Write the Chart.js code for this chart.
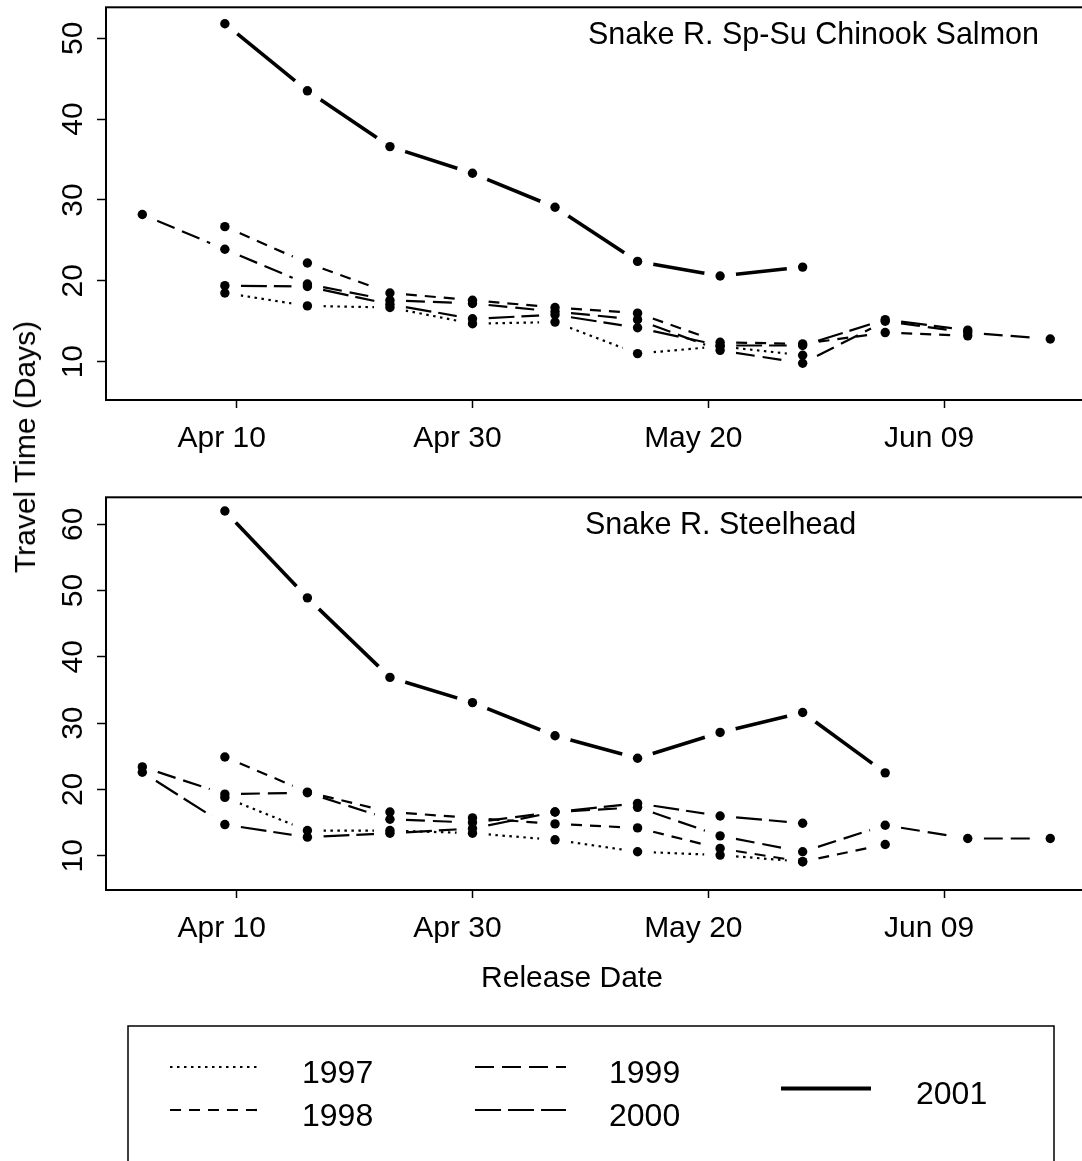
<!DOCTYPE html>
<html>
<head>
<meta charset="utf-8">
<title>Snake River travel time by release date</title>
<script src="https://cdn.jsdelivr.net/npm/chart.js@4/dist/chart.umd.min.js"></script>
<style>
  html, body { margin: 0; padding: 0; background: #fff; }
  body { width: 1082px; height: 1161px; overflow: hidden; position: relative;
         font-family: 'Liberation Sans', Arial, Helvetica, sans-serif; color: #000; }
  .panel { position: absolute; left: 0; }
  #ylab { position: absolute; left: 24.6px; top: 447px; font-size: 30px; line-height: 30px;
          white-space: nowrap; transform: translate(-50%, -50%) rotate(-90deg); }
  #xlab { position: absolute; left: 572px; top: 987px; font-size: 30px; line-height: 30px;
          white-space: nowrap; transform: translate(-50%, -25.4px); }
  #legend { position: absolute; left: 0; top: 0; }
</style>
</head>
<body>
<canvas id="chinook" class="panel" width="1100" height="470" style="top:0px"></canvas>
<canvas id="steelhead" class="panel" width="1100" height="480" style="top:480px"></canvas>
<div id="ylab">Travel Time (Days)</div>
<div id="xlab">Release Date</div>
<svg id="legend" width="1082" height="1161"></svg>

<script>
// Weekly release dates (month-day) and the axis tick dates
const releaseDates = ['04-02', '04-09', '04-16', '04-23', '04-30', '05-07',
                      '05-14', '05-21', '05-28', '06-04', '06-11', '06-18'];
const tickDates  = ['04-10', '04-30', '05-20', '06-09'];
const tickLabels = ['Apr 10', 'Apr 30', 'May 20', 'Jun 09'];

const years = ['1997', '1998', '1999', '2000', '2001'];

// Travel time (days), Snake R. spring-summer chinook salmon
const chinook1997 = [null, 18.5, 16.9, 16.7, 14.7, 14.9, 11.0, 11.9, 10.8, null, null, null];
const chinook1998 = [null, 26.7, 22.2, 18.5, 17.6, 16.7, 16.0, 12.4, 12.2, 13.6, 13.2, null];
const chinook1999 = [28.2, 23.9, 19.6, 17.6, 17.2, 16.2, 15.2, 11.4,  9.8, 15.0, 13.6, 12.8];
const chinook2000 = [null, 19.4, 19.3, 17.1, 15.3, 15.8, 14.2, 12.0, 12.0, 15.2, 13.9, null];
const chinook2001 = [null, 51.8, 43.5, 36.6, 33.3, 29.1, 22.4, 20.6, 21.7, null, null, null];

// Travel time (days), Snake R. steelhead
const steelhead1997 = [null, 18.8, 13.8, 13.8, 13.4, 12.4, 10.6, 10.1,  9.1, null, null, null];
const steelhead1998 = [null, 24.9, 19.6, 16.6, 15.7, 14.8, 14.2, 11.1,  9.1, 11.7, null, null];
const steelhead1999 = [23.4, 19.3, 19.5, 15.5, 15.0, 16.6, 17.3, 13.0, 10.6, 14.6, 12.6, 12.6];
const steelhead2000 = [22.6, 14.7, 12.8, 13.4, 14.1, 16.6, 17.9, 16.0, 14.9, null, null, null];
const steelhead2001 = [null, 62.0, 48.9, 36.9, 33.1, 28.1, 24.7, 28.6, 31.6, 22.5, null, null];

const chinookTicks   = [10, 20, 30, 40, 50];
const steelheadTicks = [10, 20, 30, 40, 50, 60];

const chinookTitle   = 'Snake R. Sp-Su Chinook Salmon';
const steelheadTitle = 'Snake R. Steelhead';

// ---- styling ----
const FONT = "'Liberation Sans', Arial, Helvetica, sans-serif";
const GAP = 16;          // blank space left around each point, as in type="b" plots
const lineStyle = {
  '1997': { dash: [2.5, 4.5], width: 2.2 },
  '1998': { dash: [11, 8],    width: 2.2 },
  '1999': { dash: [19, 8],    width: 2.2 },
  '2000': { dash: [26, 7],    width: 2.2 },
  '2001': { dash: [],         width: 3.6 }
};

function dayOfYear(md) {
  const [m, d] = md.split('-').map(Number);
  return Math.round((Date.UTC(2001, m - 1, d) - Date.UTC(2001, 0, 1)) / 864e5) + 1;
}
const releaseDays = releaseDates.map(dayOfYear);
const tickDays = tickDates.map(dayOfYear);
const firstDay = releaseDays[0];
const lastDay = releaseDays[releaseDays.length - 1];
const xPad = (lastDay - firstDay) * 0.04;

// Lines stop short of each point; the dash pattern restarts on every segment
const pointGaps = {
  id: 'pointGaps',
  beforeDatasetDraw(chart, args) {
    const ctx = chart.ctx;
    ctx.save();
    ctx.beginPath();
    ctx.rect(0, 0, chart.width, chart.height);
    args.meta.data.forEach(p => {
      ctx.moveTo(p.x + GAP, p.y);
      ctx.arc(p.x, p.y, GAP, 0, Math.PI * 2, true);
    });
    ctx.clip('evenodd');
  },
  afterDatasetDraw(chart, args) {
    chart.ctx.restore();
    args.meta.data.forEach(p => p.draw(chart.ctx, chart.chartArea));
  }
};

// Box around the plotting region
const plotFrame = {
  id: 'plotFrame',
  afterDraw(chart) {
    const { left, top, right, bottom } = chart.chartArea;
    const ctx = chart.ctx;
    ctx.save();
    ctx.lineWidth = 2;
    ctx.strokeStyle = '#000';
    ctx.strokeRect(left, top, right - left, bottom - top);
    ctx.restore();
  }
};

// Panel heading written inside the plotting region
const panelTitle = {
  id: 'panelTitle',
  afterDraw(chart, args, opts) {
    const ctx = chart.ctx;
    ctx.save();
    ctx.font = '30.5px ' + FONT;
    ctx.fillStyle = '#000';
    ctx.textAlign = 'left';
    ctx.textBaseline = 'alphabetic';
    ctx.fillText(opts.text, chart.chartArea.left + opts.dx, chart.chartArea.top + opts.dy);
    ctx.restore();
  }
};

function buildDatasets(series) {
  return years.map((yr, i) => {
    const st = lineStyle[yr];
    const pts = [];
    series[i].forEach((v, j) => { if (v !== null) pts.push({ x: releaseDays[j], y: v }); });
    return {
      label: yr,
      data: pts,
      borderColor: '#000',
      backgroundColor: '#000',
      borderWidth: st.width,
      borderDash: st.dash,
      borderCapStyle: 'butt',
      borderJoinStyle: 'miter',
      tension: 0,
      pointRadius: 4.7,
      pointHoverRadius: 4.7,
      pointBorderWidth: 0,
      pointBackgroundColor: '#000',
      segment: {
        // alternate equivalent colour strings so each segment is stroked on its own
        borderColor: c => (c.p0DataIndex % 2 ? '#000' : '#000000'),
        borderDashOffset: -GAP
      }
    };
  });
}

function makePanel(id, series, yMin, yMax, yTicks, title, titleDx, padTop) {
  return new Chart(document.getElementById(id), {
    type: 'line',
    data: { datasets: buildDatasets(series) },
    options: {
      responsive: false,
      animation: false,
      events: [],
      devicePixelRatio: 1,
      layout: { padding: { top: padTop, right: 13.4, bottom: 0, left: 0 } },
      plugins: {
        legend: { display: false },
        tooltip: { enabled: false },
        panelTitle: { text: title, dx: titleDx, dy: 36.7 }
      },
      scales: {
        x: {
          type: 'linear',
          position: 'bottom',
          min: firstDay - xPad,
          max: lastDay + xPad,
          afterBuildTicks: s => { s.ticks = tickDays.map(v => ({ value: v })); },
          afterFit: s => { s.height = 70; s.paddingLeft = 0; s.paddingRight = 0; },
          ticks: {
            autoSkip: false,
            maxRotation: 0,
            minRotation: 0,
            padding: 13,
            labelOffset: -15,
            color: '#000',
            font: { family: FONT, size: 30 },
            callback: v => tickLabels[tickDays.indexOf(v)]
          },
          grid: { drawOnChartArea: false, drawTicks: true, tickLength: 8, tickWidth: 1.5, tickColor: '#000', color: '#000' },
          border: { display: false }
        },
        y: {
          type: 'linear',
          position: 'left',
          min: yMin,
          max: yMax,
          afterBuildTicks: s => { s.ticks = yTicks.map(v => ({ value: v })); },
          afterFit: s => { s.width = 106; s.paddingTop = 0; s.paddingBottom = 0; },
          ticks: {
            minRotation: 90,
            maxRotation: 90,
            crossAlign: 'center',
            padding: 7,
            color: '#000',
            font: { family: FONT, size: 30 },
            callback: v => String(v)
          },
          grid: { drawOnChartArea: false, drawTicks: true, tickLength: 9, tickWidth: 1.5, tickColor: '#000', color: '#000' },
          border: { display: false }
        }
      }
    },
    plugins: [pointGaps, plotFrame, panelTitle]
  });
}

makePanel('chinook',
  [chinook1997, chinook1998, chinook1999, chinook2000, chinook2001],
  5.26, 53.83, chinookTicks, chinookTitle, 482, 7.3);

makePanel('steelhead',
  [steelhead1997, steelhead1998, steelhead1999, steelhead2000, steelhead2001],
  4.83, 64.07, steelheadTicks, steelheadTitle, 479, 17.3);

// ---- legend ----
(function drawLegend() {
  const svg = document.getElementById('legend');
  const NS = 'http://www.w3.org/2000/svg';
  const place = {
    '1997': { x1: 170, x2: 260, y: 1067,   tx: 302, ty: 1083 },
    '1998': { x1: 170, x2: 260, y: 1110,   tx: 302, ty: 1126 },
    '1999': { x1: 475, x2: 566, y: 1067,   tx: 609, ty: 1083 },
    '2000': { x1: 475, x2: 566, y: 1110,   tx: 609, ty: 1126 },
    '2001': { x1: 781, x2: 871, y: 1088.5, tx: 916, ty: 1104 }
  };
  const box = document.createElementNS(NS, 'rect');
  box.setAttribute('x', 128); box.setAttribute('y', 1026);
  box.setAttribute('width', 926); box.setAttribute('height', 220);
  box.setAttribute('fill', 'none'); box.setAttribute('stroke', '#000'); box.setAttribute('stroke-width', 1.5);
  svg.appendChild(box);
  years.forEach(yr => {
    const p = place[yr], st = lineStyle[yr];
    const ln = document.createElementNS(NS, 'line');
    ln.setAttribute('x1', p.x1); ln.setAttribute('x2', p.x2);
    ln.setAttribute('y1', p.y); ln.setAttribute('y2', p.y);
    ln.setAttribute('stroke', '#000');
    ln.setAttribute('stroke-width', yr === '2001' ? 4 : st.width);
    if (st.dash.length) ln.setAttribute('stroke-dasharray', st.dash.join(' '));
    svg.appendChild(ln);
    const tx = document.createElementNS(NS, 'text');
    tx.setAttribute('x', p.tx); tx.setAttribute('y', p.ty);
    tx.setAttribute('font-family', FONT); tx.setAttribute('font-size', 32);
    tx.setAttribute('fill', '#000');
    tx.textContent = yr;
    svg.appendChild(tx);
  });
})();
</script>
</body>
</html>
